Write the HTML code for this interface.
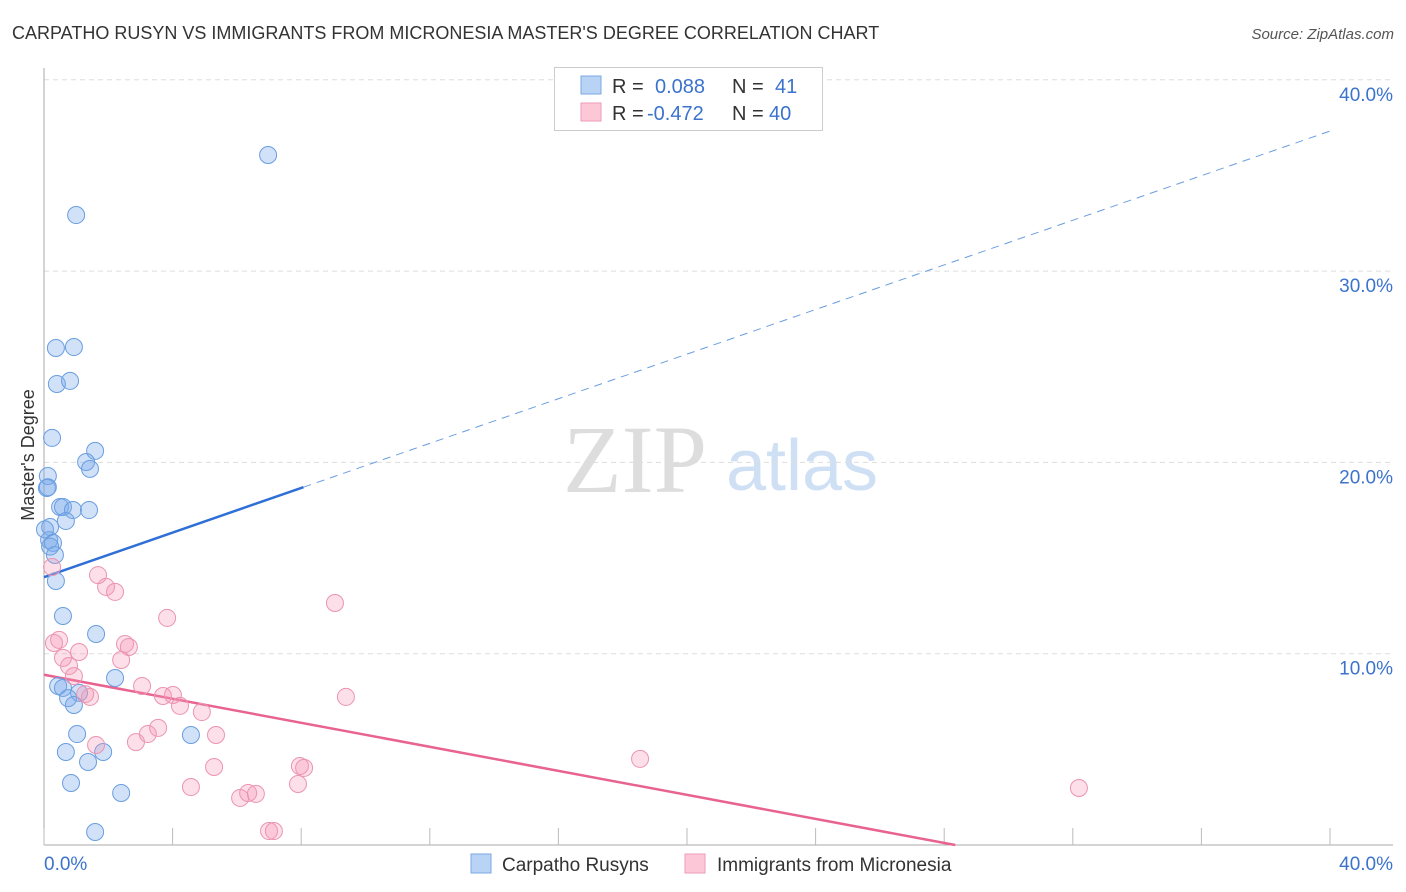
<!DOCTYPE html>
<html><head><meta charset="utf-8"><style>
body{margin:0;background:#fff;font-family:"Liberation Sans",sans-serif;}
svg{display:block}
</style></head><body>
<svg id="chart" width="1406" height="892">
<text x="12" y="39" font-size="18" fill="#333">CARPATHO RUSYN VS IMMIGRANTS FROM MICRONESIA MASTER'S DEGREE CORRELATION CHART</text>
<text x="1394" y="39" font-size="15" fill="#555" font-style="italic" text-anchor="end">Source: ZipAtlas.com</text>
<g>
<text x="635" y="492" font-size="96" fill="#ddd" font-family="Liberation Serif,serif" text-anchor="middle">ZIP</text>
<text x="802" y="490" font-size="72" fill="#cfe0f5" text-anchor="middle">atlas</text>
</g>
<text transform="translate(34,455) rotate(-90)" font-size="18" fill="#333" text-anchor="middle">Master's Degree</text>
<g id="grid"></g><g id="axes"></g><g id="lines"></g><g id="pts"></g>
<g>
<rect x="554.5" y="67.5" width="268" height="63" fill="#fff" stroke="#ccc"/>
<rect x="581" y="76" width="20" height="18" fill="#b9d3f4" stroke="#7aa8e4"/>
<rect x="581" y="103" width="20" height="18" fill="#fcc8d8" stroke="#ee9cb7"/>
<text font-size="20" fill="#333"><tspan x="612" y="93">R =</tspan><tspan x="732" y="93">N =</tspan><tspan x="612" y="120">R =</tspan><tspan x="732" y="120">N =</tspan></text>
<text font-size="20" fill="#3b73cc"><tspan x="655" y="93">0.088</tspan><tspan x="775" y="93">41</tspan><tspan x="647" y="120">-0.472</tspan><tspan x="769" y="120">40</tspan></text>
</g>
<g>
<rect x="471" y="854" width="20" height="19" fill="#b9d3f4" stroke="#7aa8e4"/>
<text x="502" y="871" font-size="19" fill="#333">Carpatho Rusyns</text>
<rect x="685" y="854" width="20" height="19" fill="#fcc8d8" stroke="#ee9cb7"/>
<text x="717" y="871" font-size="19" fill="#333">Immigrants from Micronesia</text>
</g>
</svg>
<script>
const blueX=[6.97,1.0,0.37,0.93,0.40,0.81,0.25,1.59,1.31,1.43,0.12,0.09,0.50,0.59,0.90,1.40,0.68,0.19,0.16,0.28,0.34,0.37,0.59,1.62,2.21,0.44,0.59,1.09,0.75,0.93,4.57,1.03,0.68,1.84,1.37,0.84,2.40,1.59,0.12,0.03,0.19];
const blueY=[36.07,32.93,25.98,26.03,24.10,24.26,21.28,20.60,20.02,19.66,19.29,18.66,17.67,17.67,17.51,17.51,16.94,16.62,15.94,15.79,15.16,13.80,11.97,11.03,8.73,8.31,8.21,7.95,7.68,7.32,5.75,5.80,4.86,4.86,4.34,3.24,2.72,0.68,18.7,16.5,15.6];
const pinkX=[0.31,0.47,1.68,1.93,2.21,3.83,9.05,2.52,2.64,2.40,1.09,0.59,0.78,0.93,1.43,1.28,3.05,3.70,4.01,4.23,4.91,1.62,2.86,3.23,3.55,5.35,5.29,4.57,6.10,6.35,6.59,7.90,7.96,8.09,9.39,18.54,32.19,7.0,7.15,0.25];
const pinkY=[10.56,10.72,14.11,13.49,13.23,11.87,12.65,10.51,10.35,9.67,10.09,9.78,9.36,8.83,7.74,7.89,8.31,7.79,7.84,7.27,6.95,5.23,5.38,5.80,6.12,5.75,4.08,3.03,2.46,2.72,2.67,3.19,4.13,4.03,7.74,4.50,2.98,0.73,0.73,14.53];
const yTicks=[10,20,30,40];
const yTickLabels=["10.0%","20.0%","30.0%","40.0%"];
const xTickVals=[0,4,8,12,16,20,24,28,32,36,40];
const blueTrend=[14.0,0.583];
const pinkTrend=[8.9,-0.314];
const X0=44,X1=1330,Y0=845,PXY=19.13;
const sx=v=>X0+v*(X1-X0)/40, sy=v=>Y0-v*PXY;
const NS="http://www.w3.org/2000/svg";
function mk(p,t,a){const e=document.createElementNS(NS,t);for(const k in a)e.setAttribute(k,a[k]);p.appendChild(e);return e;}
const grid=document.getElementById('grid'),axes=document.getElementById('axes'),lines=document.getElementById('lines'),pts=document.getElementById('pts');
yTicks.forEach((v,i)=>{
 const l=mk(grid,'line',{x1:X0,x2:1393,y1:sy(v),y2:sy(v),stroke:'#ddd','stroke-dasharray':'5,4'});
 
 
 const t=mk(grid,'text',{x:1393,y:sy(v)+21,'font-size':19,fill:'#3b73cc','text-anchor':'end'});
 t.textContent=yTickLabels[i];
 
 
});
const ax=mk(axes,'line',{x1:X0,x2:X0,y1:68,y2:Y0,stroke:'#aaa'});


const bx=mk(axes,'line',{x1:X0,x2:1393,y1:Y0,y2:Y0,stroke:'#aaa'});


xTickVals.forEach(v=>{
 const t=mk(axes,'line',{x1:sx(v),x2:sx(v),y1:828,y2:Y0,stroke:'#bbb'});
 
 
});
const xl0=mk(axes,'text',{x:44,y:870,'font-size':19,fill:'#3b73cc'});xl0.textContent='0.0%';


const xl1=mk(axes,'text',{x:1393,y:870,'font-size':19,fill:'#3b73cc','text-anchor':'end'});xl1.textContent='40.0%';


function draw(xs,ys,fill,stroke,name){xs.forEach((x,i)=>{
 const c=mk(pts,'circle',{cx:sx(x),cy:sy(ys[i]),r:8.5,fill:fill,stroke:stroke,'stroke-width':1});
 
 
});}
draw(blueX,blueY,'rgba(120,170,235,0.35)','#6a9ee0','point-carpatho-rusyn');
draw(pinkX,pinkY,'rgba(245,150,180,0.3)','#eb94b2','point-micronesia');
const bf=x=>blueTrend[0]+blueTrend[1]*x;
const b1=mk(lines,'line',{x1:sx(0),y1:sy(bf(0)),x2:sx(8.07),y2:sy(bf(8.07)),stroke:'#2f6fd6','stroke-width':2.5});


const b2=mk(lines,'line',{x1:sx(8.07),y1:sy(bf(8.07)),x2:sx(40),y2:sy(bf(40)),stroke:'#6a9ee0','stroke-width':1,'stroke-dasharray':'8,6'});


const pf=x=>pinkTrend[0]+pinkTrend[1]*x;
const pe=-pinkTrend[0]/pinkTrend[1];
const p1=mk(lines,'line',{x1:sx(0),y1:sy(pf(0)),x2:sx(pe),y2:sy(0),stroke:'#e8638f','stroke-width':2.5});


</script>
</body></html>
